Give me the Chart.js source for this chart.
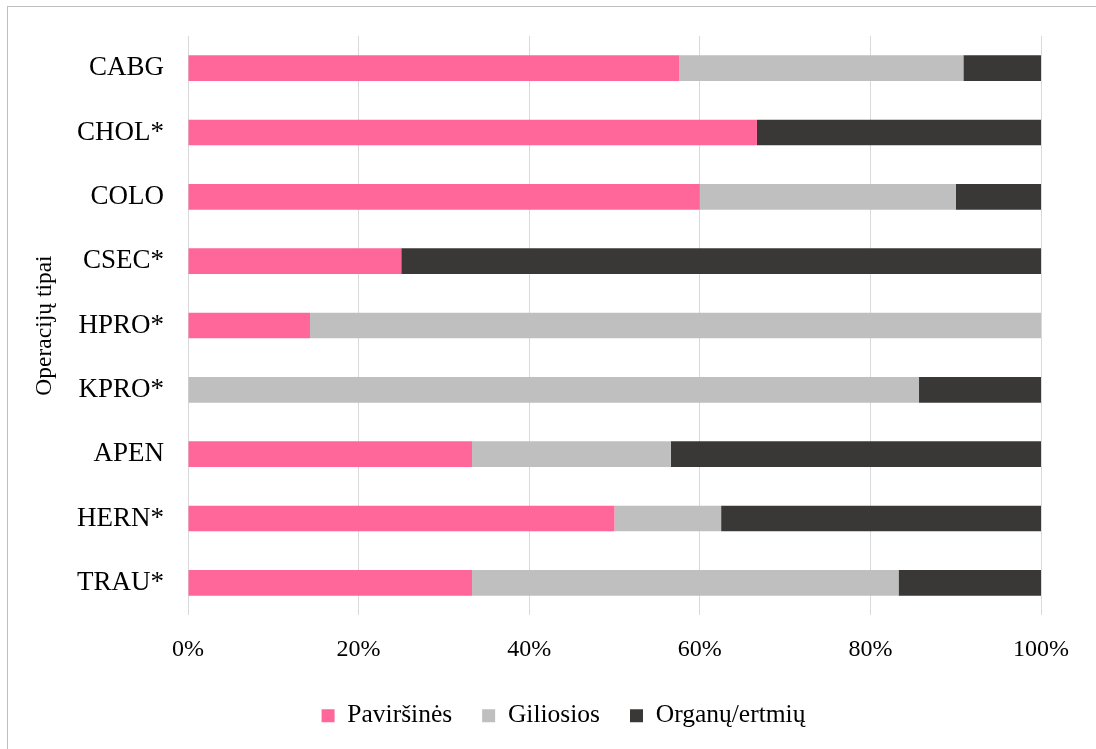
<!DOCTYPE html>
<html>
<head>
<meta charset="utf-8">
<script src="https://cdn.jsdelivr.net/npm/chart.js@4.4.1/dist/chart.umd.min.js"></script>
<style>
  html, body { margin: 0; padding: 0; background: #ffffff; }
  body { width: 1096px; height: 749px; position: relative; overflow: hidden; }
  #frame { position: absolute; left: 7px; top: 6px; width: 1100px; height: 760px; border: 1px solid #bfbfbf; box-sizing: border-box; }
  #wrap { position: absolute; left: 0; top: 0; width: 1096px; height: 749px; }
</style>
</head>
<body>
<div id="frame"></div>
<div id="wrap"><canvas id="c" width="1096" height="749"></canvas></div>
<script>
const categories = ["CABG", "CHOL*", "COLO", "CSEC*", "HPRO*", "KPRO*", "APEN", "HERN*", "TRAU*"];
const seriesNames = ["Paviršinės", "Giliosios", "Organų/ertmių"];
const pavirsines = [57.6, 66.7, 60.0, 25.0, 14.3, 0.0, 33.3, 50.0, 33.3];
const giliosios  = [33.3,  0.0, 30.0,  0.0, 85.7, 85.7, 23.3, 12.5, 50.0];
const organu     = [ 9.1, 33.3, 10.0, 75.0,  0.0, 14.3, 43.4, 37.5, 16.7];
const xTicks = [0, 20, 40, 60, 80, 100];
const axisTitle = "Operacijų tipai";

const FONT = "'Liberation Serif', 'Times New Roman', serif";
Chart.defaults.font.family = FONT;
Chart.defaults.color = '#000000';
const colors = ["#ff6699", "#bfbfbf", "#3a3836"];
const values = [pavirsines, giliosios, organu];

const legendFit = {
  id: 'legendFit',
  beforeInit(chart) {
    const orig = chart.legend.fit;
    chart.legend.fit = function () {
      orig.bind(chart.legend)();
      this.height = 76;
    };
  },
  afterLayout(chart) {
    chart.legend.left += 31;
    chart.legend.right += 31;
  }
};

new Chart(document.getElementById('c'), {
  type: 'bar',
  data: {
    labels: categories,
    datasets: seriesNames.map((n, i) => ({
      label: n,
      data: values[i],
      backgroundColor: colors[i],
      borderWidth: 0,
      barPercentage: 0.4,
      categoryPercentage: 1.0
    }))
  },
  options: {
    indexAxis: 'y',
    responsive: false,
    animation: false,
    layout: { padding: { left: 24, right: 55, top: 36, bottom: 0 } },
    scales: {
      x: {
        stacked: true,
        min: 0, max: 100,
        afterBuildTicks(scale) { scale.ticks = xTicks.map(v => ({ value: v })); },
        afterFit(scale) { scale.height = 58; scale.paddingLeft = 0; scale.paddingRight = 0; },
        grid: { color: '#d9d9d9', lineWidth: 1, drawTicks: false },
        border: { display: false },
        ticks: {
          padding: 20,
          color: '#000000',
          font: { family: FONT, size: 24 },
          callback: v => v + '%'
        }
      },
      y: {
        stacked: true,
        afterFit(scale) { scale.width = 164; scale.paddingTop = 0; scale.paddingBottom = 0; },
        grid: { display: false, drawTicks: false },
        border: { display: false },
        ticks: {
          padding: 24,
          color: '#000000',
          font: { family: FONT, size: 27 }
        },
        title: {
          display: true,
          text: axisTitle,
          color: '#000000',
          font: { family: FONT, size: 23.5 },
          padding: { top: 7, bottom: 0 }
        }
      }
    },
    plugins: {
      legend: {
        position: 'bottom',
        labels: {
          boxWidth: 13,
          boxHeight: 13,
          padding: 30,
          color: '#000000',
          font: { family: FONT, size: 25.5 }
        }
      },
      tooltip: { enabled: false }
    }
  },
  plugins: [legendFit]
});
</script>
</body>
</html>
